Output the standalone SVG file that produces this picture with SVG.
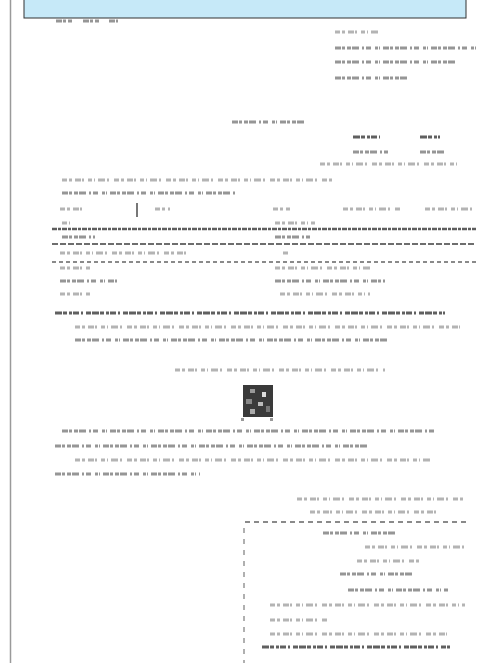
<svg xmlns="http://www.w3.org/2000/svg" width="478" height="663" viewBox="0 0 478 663">
<style>
.bg{fill:#ffffff}
.frame{stroke:#9a9a9a;stroke-width:1.5;fill:none}
.banner{fill:#c6e9f8;stroke:#333;stroke-width:1}
.tl{fill:none;stroke:#b4b4b4;stroke-width:3;stroke-dasharray:5 2 3 3 6 1 2 4 4 2 1 3 7 2 2 5}
.tm{fill:none;stroke:#969696;stroke-width:3;stroke-dasharray:6 1 3 2 4 1 7 3 2 2 5 4 3 1 1 3}
.td{fill:none;stroke:#606060;stroke-width:3;stroke-dasharray:7 1 4 2 3 1 6 2 2 3 5 1}
.rule{fill:none;stroke:#5e5e5e;stroke-width:2.5;stroke-dasharray:5 1 3 1}
.rule2{fill:none;stroke:#6e6e6e;stroke-width:2;stroke-dasharray:6 2}
.dot{fill:none;stroke:#8a8a8a;stroke-width:2;stroke-dasharray:4 3}
.dash{fill:none;stroke:#8a8a8a;stroke-width:2;stroke-dasharray:5 4}
.vd{fill:none;stroke:#b0b0b0;stroke-width:2;stroke-dasharray:5 6}
</style>
<rect class="bg" x="0" y="0" width="478" height="663"/>
<line class="frame" x1="10.5" y1="0" x2="10.5" y2="663"/>
<g id="banner"><rect class="banner" x="24" y="-1" width="442" height="19"/></g>

<g id="header">
<path class="tm" d="M56 21H72M83 21H99M109 21H118"/>
<path class="tl" d="M335 32H378"/>
<path class="tm" d="M335 48H476M335 62H457"/>
<path class="tm" d="M335 78H408"/>
</g>

<g id="title">
<path class="tm" d="M232 122H306"/>
<path class="td" d="M353 137H380M420 137H440"/>
<path class="tm" d="M353 152H388M420 152H446"/>
<path class="tl" d="M320 164H460"/>
</g>

<g id="intro">
<path class="tl" d="M62 180H335"/>
<path class="tm" d="M62 193H235"/>
</g>

<g id="table">
<path class="tl" d="M60 209H86M155 209H170M273 209H290M343 209H400M425 209H475"/>
<line x1="137" y1="203" x2="137" y2="217" stroke="#777" stroke-width="2"/>
<path class="tl" d="M62 223H70M275 223H315"/>
<line class="rule" x1="52" y1="229" x2="476" y2="229"/>
<path class="tm" d="M62 237H95M275 237H310"/>
<line class="rule2" x1="52" y1="244" x2="476" y2="244"/>
<path class="tl" d="M60 253H190M283 253H290"/>
<line class="dot" x1="52" y1="262" x2="476" y2="262"/>
<path class="tl" d="M60 268H90M275 268H370"/>
<path class="tm" d="M60 281H117M275 281H385"/>
<path class="tl" d="M60 294H92M280 294H370"/>
</g>

<g id="notes">
<path class="td" d="M55 313H445"/>
<path class="tl" d="M75 327H460"/>
<path class="tm" d="M75 340H390"/>
</g>

<g id="verify">
<path class="tl" d="M175 370H385"/>
<g id="qr">
<rect x="243" y="385" width="30" height="32" fill="#3a3a3a"/>
<rect x="250" y="389" width="5" height="4" fill="#999"/>
<rect x="262" y="392" width="4" height="5" fill="#ddd"/>
<rect x="246" y="399" width="6" height="5" fill="#888"/>
<rect x="258" y="402" width="5" height="4" fill="#bbb"/>
<rect x="266" y="406" width="4" height="6" fill="#777"/>
<rect x="250" y="409" width="5" height="5" fill="#aaa"/>
<rect x="241" y="418" width="3" height="3" fill="#999"/>
<rect x="270" y="418" width="3" height="3" fill="#999"/>
</g>
<path class="tm" d="M62 431H435"/>
<path class="tm" d="M55 446H370"/>
<path class="tl" d="M75 460H430"/>
<path class="tm" d="M55 474H200"/>
</g>

<g id="signature">
<path class="tl" d="M297 499H465"/>
<path class="tl" d="M310 512H440"/>
<line class="dash" x1="245" y1="522" x2="470" y2="522"/>
<line class="vd" x1="244" y1="528" x2="244" y2="663"/>
<path class="tm" d="M323 533H395"/>
<path class="tl" d="M365 547H465"/>
<path class="tl" d="M357 561H420"/>
<path class="tm" d="M340 574H415"/>
<path class="tm" d="M348 590H448"/>
<path class="tl" d="M270 605H465"/>
<path class="tl" d="M270 620H328"/>
<path class="tl" d="M270 634H447"/>
<path class="td" d="M262 647H450"/>
</g>
</svg>
